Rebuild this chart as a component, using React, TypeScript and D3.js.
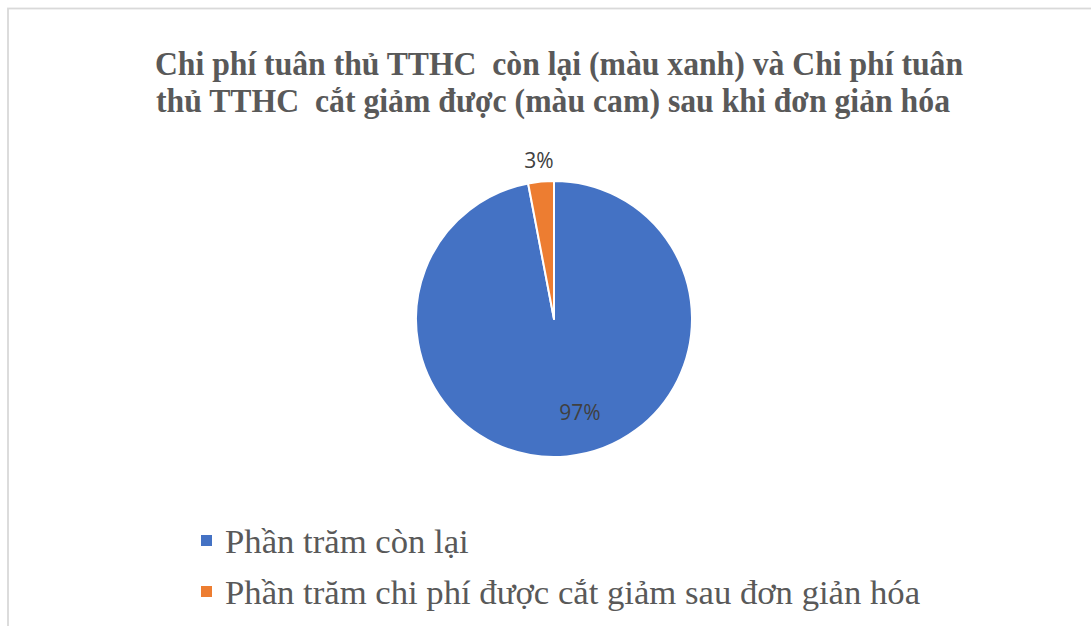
import React from 'react';
import * as d3 from 'd3';

const WIDTH = 1091;
const HEIGHT = 626;

const TITLE_LINES = [
  'Chi phí tuân thủ TTHC  còn lại (màu xanh) và Chi phí tuân',
  'thủ TTHC  cắt giảm được (màu cam) sau khi đơn giản hóa',
];
const CATEGORIES = ['Phần trăm còn lại', 'Phần trăm chi phí được cắt giảm sau đơn giản hóa'];
const VALUES = [97, 3];
const COLORS = ['#4472C4', '#ED7D31'];

const CX = 554;
const CY = 319;
const RADIUS = 138;

const App = () => {
  const pie = d3.pie<number>().sort(null).value((d) => d);
  const arcs = pie(VALUES);
  const arc = d3.arc<d3.PieArcDatum<number>>().innerRadius(0).outerRadius(RADIUS);
  const inLabel = d3.arc<d3.PieArcDatum<number>>().innerRadius(RADIUS * 0.68).outerRadius(RADIUS * 0.68);
  const outLabel = d3.arc<d3.PieArcDatum<number>>().innerRadius(RADIUS * 1.16).outerRadius(RADIUS * 1.16);
  const total = d3.sum(VALUES);

  return (
    <svg
      width={WIDTH}
      height={HEIGHT}
      style={{ position: 'absolute', left: 0, top: 0, display: 'block', background: '#fff' }}
    >
      <rect x={8} y={8.5} width={1200} height={800} fill="#fff" stroke="#d9d9d9" strokeWidth={1.8} />

      <g fontFamily="'Liberation Serif', 'Times New Roman', serif" fontWeight="bold" fontSize={33} fill="#595959">
        <text x={155} y={75} textLength={808} lengthAdjust="spacingAndGlyphs" style={{ whiteSpace: 'pre' }}>
          {TITLE_LINES[0]}
        </text>
        <text x={156} y={112} textLength={794} lengthAdjust="spacingAndGlyphs" style={{ whiteSpace: 'pre' }}>
          {TITLE_LINES[1]}
        </text>
      </g>

      <g transform={`translate(${CX}, ${CY})`}>
        {arcs.map((a, i) => (
          <path key={i} d={arc(a) || ''} fill={COLORS[i]} stroke="#fff" strokeWidth={2} strokeLinejoin="round" />
        ))}
        {arcs.map((a, i) => {
          const small = a.endAngle - a.startAngle < 0.3;
          const [x, y] = small ? outLabel.centroid(a) : inLabel.centroid(a);
          return (
            <text
              key={'l' + i}
              x={x + (small ? 0 : 17)}
              y={y}
              textAnchor="middle"
              dominantBaseline="central"
              fontFamily="'Open Sans', 'Noto Sans', sans-serif"
              fontSize={21}
              fill="#404040"
            >
              {d3.format('.0%')(a.data / total)}
            </text>
          );
        })}
      </g>

      <g fontFamily="'Liberation Serif', 'Times New Roman', serif" fontSize={34.7} fill="#595959">
        {CATEGORIES.map((c, i) => (
          <g key={c} transform={`translate(201, ${553 + i * 51})`}>
            <rect x={0} y={-18} width={11} height={11} fill={COLORS[i]} />
            <text x={24} y={0}>{c}</text>
          </g>
        ))}
      </g>
    </svg>
  );
};

export default App;
